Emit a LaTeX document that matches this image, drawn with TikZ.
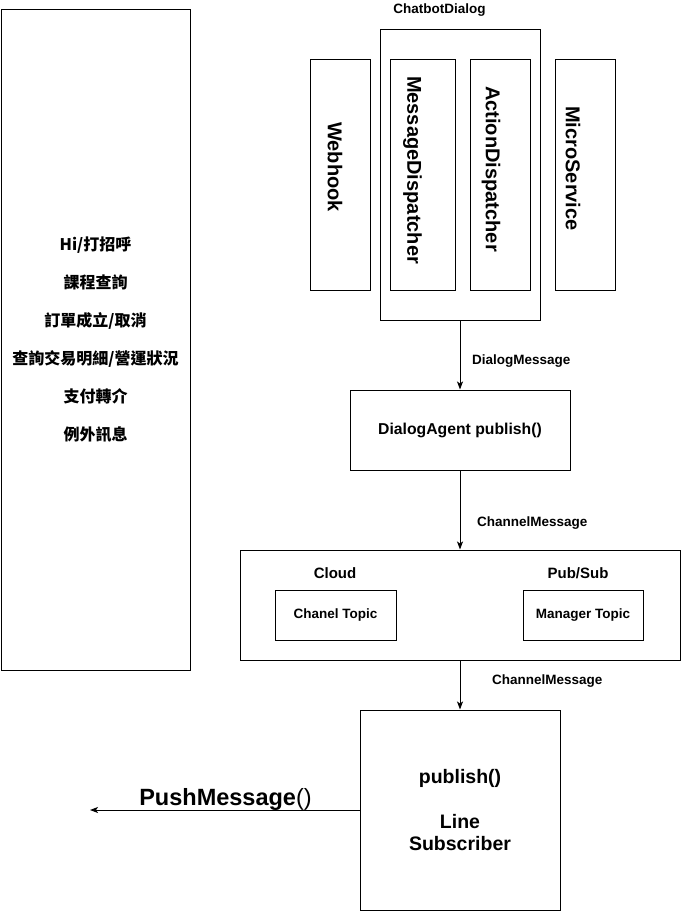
\documentclass[tikz,border=0pt]{standalone}
\usepackage{fontspec}
\setmainfont{Liberation Sans}
\newfontfamily\cjk{Noto Sans CJK TC}
\usepackage{tikz}
\usetikzlibrary{arrows.meta,positioning,calc}

\tikzset{
  box/.style={draw, line width=1pt, inner sep=0pt},
  vtext/.style={rotate=-90, inner sep=0pt, font=\bfseries\fontsize{20}{24}\selectfont},
  small/.style={inner sep=0pt, font=\bfseries\fontsize{13.5}{16}\selectfont},
  mid/.style={inner sep=0pt, font=\bfseries\fontsize{15}{18}\selectfont},
  flow/.style={line width=1pt, -{Stealth[length=8pt,width=6pt,inset=2pt]}},
}

\begin{document}
\begin{tikzpicture}[x=1pt,y=1pt]
\useasboundingbox (0,0) rectangle (682,-912);
% intents on the left
\node[box, minimum width=189, minimum height=660, align=center,
  font=\cjk\bfseries\fontsize{16}{38}\selectfont] (intents) at (95.5,-340)
  {Hi/打招呼\\課程查詢\\訂單成立/取消\\查詢交易明細/營運狀況\\支付轉介\\例外訊息};
% chatbot dialog
\node[small] (dialogtitle) at (439.5,-10) {ChatbotDialog};
\node[box, minimum width=160, minimum height=290] (dialog) at (460,-175) {};
\node[box, minimum width=60, minimum height=230] (webhook) at (340,-175) {};
\node[box, minimum width=65, minimum height=230] (msgdisp) at (422.5,-175) {};
\node[box, minimum width=60, minimum height=230] (actdisp) at (500,-175) {};
\node[box, minimum width=60, minimum height=230] (microsvc) at (585,-175) {};
\node[vtext] at ([shift={(-5,8)}]webhook.center) {Webhook};
\node[vtext] at ([shift={(-10,5)}]msgdisp.center) {MessageDispatcher};
\node[vtext] at ([shift={(-9,6)}]actdisp.center) {ActionDispatcher};
\node[vtext] at ([shift={(-12,6.5)}]microsvc.center) {MicroService};
% agent
\node[box, minimum width=220, minimum height=80, font=\bfseries\fontsize{15.75}{18}\selectfont] (agent) at (460,-430) {DialogAgent publish()};
\draw[flow] (dialog.south) -- (agent.north);
\node[small, anchor=west] (dialogmsg) at (472,-361) {DialogMessage};
% cloud pub/sub
\node[box, minimum width=440, minimum height=110] (cloud) at (460,-605) {};
\node[mid] (cloudlbl) at (335,-573) {Cloud};
\node[mid] (pubsublbl) at (578,-573) {Pub/Sub};
\node[box, small, minimum width=121, minimum height=50] (chanel) at (335.5,-615) {Chanel Topic};
\node[box, small, minimum width=120, minimum height=50] (manager) at (583,-615) {Manager Topic};
\draw[flow] (agent.south) -- (cloud.north);
\node[small, anchor=west] (chanmsga) at (477,-523) {ChannelMessage};
% line subscriber
\node[box, minimum width=200, minimum height=200, align=center,
  font=\bfseries\fontsize{19.5}{22.5}\selectfont] (linesub) at (460,-810)
  {publish()\\[22.5pt]Line\\Subscriber};
\draw[flow] (cloud.south) -- (linesub.north);
\node[small, anchor=west] (chanmsgb) at (492,-681) {ChannelMessage};
\coordinate (out) at (90,-810);
\draw[flow] (linesub.west) -- (out);
\node[anchor=base, inner sep=0pt, font=\fontsize{23.5}{28}\selectfont] (pushlbl) at (225.5,-805) {\textbf{PushMessage}()};
\end{tikzpicture}
\end{document}
